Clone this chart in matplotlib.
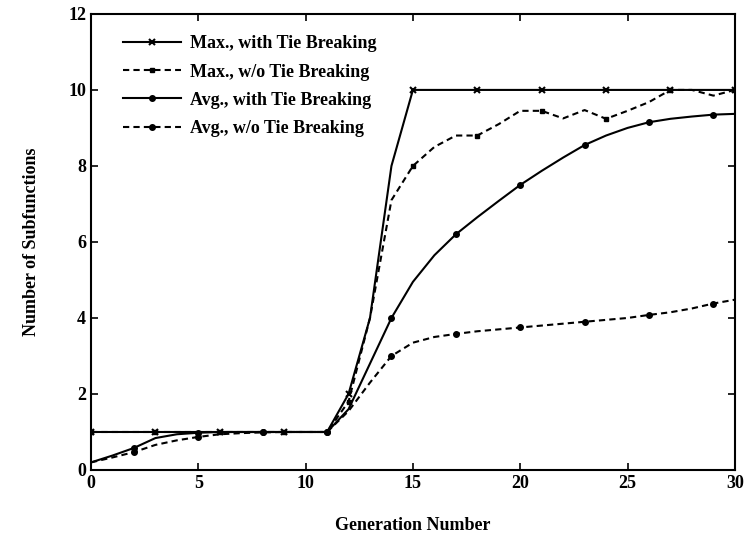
import matplotlib.pyplot as plt
import numpy as np

# Generations 0..30
gen = np.arange(0, 31)

max_tie = [1, 1, 1, 1, 1, 1, 1, 1, 1, 1, 1, 1, 2.0, 4.0, 8.0, 10, 10, 10, 10, 10,
           10, 10, 10, 10, 10, 10, 10, 10, 10, 10, 10]
max_notie = [1, 1, 1, 1, 1, 1, 1, 1, 1, 1, 1, 1, 1.8, 4.0, 7.1, 8.0, 8.5, 8.8, 8.8, 9.1,
             9.45, 9.45, 9.25, 9.47, 9.24, 9.45, 9.68, 10, 10, 9.85, 10]
avg_tie = [0.2, 0.38, 0.58, 0.84, 0.94, 0.98, 1.0, 1.0, 1.0, 1.0, 1.0, 1.0, 1.6, 2.8, 4.0, 4.95,
           5.65, 6.2, 6.65, 7.08, 7.5, 7.87, 8.22, 8.55, 8.8, 9.0, 9.15, 9.24, 9.3, 9.35, 9.37]
avg_notie = [0.2, 0.33, 0.47, 0.66, 0.78, 0.87, 0.94, 0.97, 0.99, 1.0, 1.0, 1.0, 1.55, 2.3, 3.0,
             3.35, 3.5, 3.58, 3.65, 3.7, 3.75, 3.8, 3.85, 3.9, 3.95, 4.0, 4.08, 4.15, 4.25, 4.38, 4.48]

labels = ["Max., with Tie Breaking", "Max., w/o Tie Breaking",
          "Avg., with Tie Breaking", "Avg., w/o Tie Breaking"]

plt.rcParams['font.family'] = ['Liberation Serif', 'DejaVu Serif']

fig = plt.figure(figsize=(7.46, 5.35), dpi=100)
ax = fig.add_axes([0.122, 0.1215, 0.863, 0.8525])

ax.plot(gen, max_tie, '-', color='black', lw=1.5, marker='x', ms=4, mew=1.5,
        markevery=3, label=labels[0])
ax.plot(gen, max_notie, '--', color='black', lw=1.5, marker='s', ms=3,
        markevery=3, dashes=(3, 2), label=labels[1])
ax.plot(gen, avg_tie, '-', color='black', lw=1.5, marker='o', ms=4,
        markevery=(2, 3), label=labels[2])
ax.plot(gen, avg_notie, '--', color='black', lw=1.5, marker='o', ms=4,
        markevery=(2, 3), dashes=(3, 2), label=labels[3])

ax.set_xlim(0, 30)
ax.set_ylim(0, 12)
ax.set_xticks([0, 5, 10, 15, 20, 25, 30])
ax.set_yticks([0, 2, 4, 6, 8, 10, 12])
ax.tick_params(direction='in', top=True, right=True, length=5, width=1.2,
               labelsize=13)
for lab in ax.get_xticklabels() + ax.get_yticklabels():
    lab.set_fontweight('bold')
for sp in ax.spines.values():
    sp.set_linewidth(1.5)

ax.set_xlabel("Generation Number", fontsize=13, fontweight='bold', labelpad=18)
ax.set_ylabel("Number of Subfunctions", fontsize=13, fontweight='bold', labelpad=20)

leg = ax.legend(loc='upper left', bbox_to_anchor=(0.05, 0.953), frameon=False,
                handlelength=3.2, handletextpad=0.5, borderaxespad=0, borderpad=0,
                labelspacing=0.62, prop={'weight': 'bold', 'size': 13})

fig.savefig("out.png", dpi=100)
